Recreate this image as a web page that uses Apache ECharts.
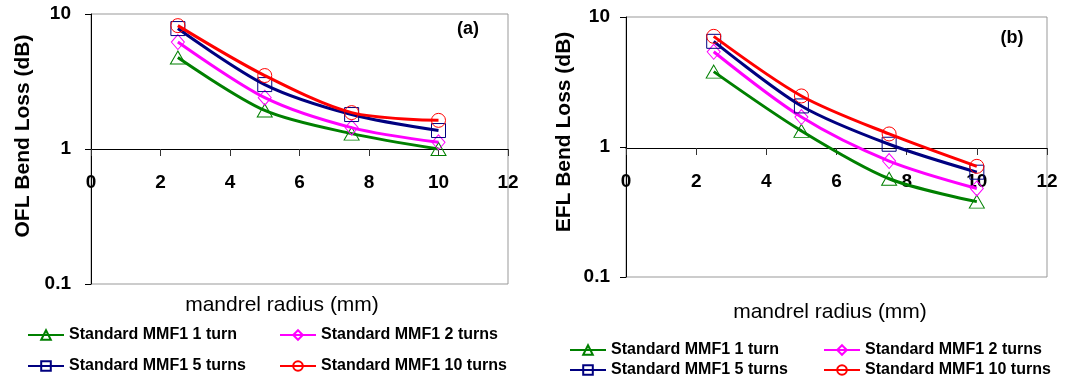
<!DOCTYPE html>
<html>
<head>
<meta charset="utf-8">
<script src="https://cdn.jsdelivr.net/npm/echarts@6/dist/echarts.min.js"></script>
<style>html,body{margin:0;padding:0;background:#fff}#c{width:1075px;height:383px}</style>
</head>
<body>
<div id="c"></div>
<script>
const radius = [2.5, 5, 7.5, 10];
const names = ['Standard MMF1 1 turn', 'Standard MMF1 2 turns', 'Standard MMF1 5 turns', 'Standard MMF1 10 turns'];
const ofl1 = [4.76, 1.93, 1.30, 1.00];
const ofl2 = [6.2, 2.4, 1.44, 1.12];
const ofl5 = [7.8, 3.0, 1.80, 1.37];
const ofl10 = [8.2, 3.5, 1.86, 1.63];
const efl1 = [3.8, 1.33, 0.57, 0.38];
const efl2 = [5.4, 1.70, 0.78, 0.48];
const efl5 = [6.5, 2.07, 1.05, 0.64];
const efl10 = [7.1, 2.47, 1.26, 0.71];
const xTicks = [0, 2, 4, 6, 8, 10, 12];
const yTicks = [0.1, 1, 10];

const FONT = '"Liberation Sans", Arial, sans-serif';
const colors = ['#008000', '#ff00ff', '#000080', '#ff0000'];
const symbols = ['triangle', 'diamond', 'rect', 'circle'];
const symSizes = [[15, 13], [13, 15], [14, 14], [14, 14]];

const P = [
  {grid: {left: 91, top: 14, width: 417, height: 270}, axisH: 135, data: [ofl1, ofl2, ofl5, ofl10], yname: 'OFL Bend Loss (dB)', ynx: 23, yny: 136, xname: 'mandrel radius (mm)', xnx: 282, xny: 305, tag: '(a)', tx: 468, ty: 29, labelMargin: 20,
   leg: {x1: 27, x2: 279, y1: 336, y2: 367}},
  {grid: {left: 626, top: 17, width: 421, height: 260}, axisH: 131, data: [efl1, efl2, efl5, efl10], yname: 'EFL Bend Loss (dB)', ynx: 564, yny: 132, xname: 'mandrel radius (mm)', xnx: 830, xny: 312, tag: '(b)', tx: 1012, ty: 38, labelMargin: 16,
   leg: {x1: 569, x2: 823, y1: 351, y2: 371}}
];

const grids = [], xAxes = [], yAxes = [], series = [], legends = [], graphics = [];
P.forEach((p, pi) => {
  const gMain = grids.length;
  grids.push(Object.assign({show: true, borderColor: '#999', borderWidth: 1, containLabel: false}, p.grid));
  grids.push({left: p.grid.left, top: p.grid.top, width: p.grid.width, height: p.axisH, show: false});
  // main axes
  xAxes.push({gridIndex: gMain, type: 'value', min: 0, max: 12, interval: 2, show: false});
  yAxes.push({gridIndex: gMain, type: 'log', logBase: 10, min: yTicks[0], max: yTicks[yTicks.length - 1],
    axisLine: {show: true, lineStyle: {color: '#000', width: 1}},
    axisTick: {show: true, inside: false, length: 6, lineStyle: {color: '#000'}},
    minorTick: {show: false}, splitLine: {show: false},
    axisLabel: {margin: p.labelMargin, fontFamily: FONT, fontSize: 19, fontWeight: 'bold', color: '#000',
      formatter: v => String(+Number(v).toPrecision(2))}
  });
  // x axis drawn at y = 1
  xAxes.push({gridIndex: gMain + 1, type: 'value', min: xTicks[0], max: xTicks[xTicks.length - 1], interval: 2, position: 'bottom',
    axisLine: {show: true, lineStyle: {color: '#000', width: 1}},
    axisTick: {show: true, inside: false, length: 7, lineStyle: {color: '#333'}},
    splitLine: {show: false},
    axisLabel: {margin: 24, fontFamily: FONT, fontSize: 19, color: '#000', fontWeight: 'bold'}
  });
  yAxes.push({gridIndex: gMain + 1, type: 'value', show: false, min: 0, max: 1});
  const xi = pi * 2, yi = pi * 2;
  p.data.forEach((arr, si) => {
    series.push({
      name: names[si], type: 'line', xAxisIndex: xi, yAxisIndex: yi,
      data: radius.map((r, k) => [r, arr[k]]),
      smooth: 0.3,
      symbol: symbols[si], symbolSize: symSizes[si],
      showAllSymbol: true,
      lineStyle: {color: colors[si], width: 3},
      itemStyle: {color: 'rgba(255,255,255,0)', borderColor: colors[si], borderWidth: 1},
      z: 2 + si
    });
  });
  const L = p.leg;
  const pos = [[L.x1, L.y1], [L.x2, L.y1], [L.x1, L.y2], [L.x2, L.y2]];
  names.forEach((n, i) => {
    legends.push({
      data: [n], left: pos[i][0], top: pos[i][1] - 9, padding: 0,
      itemWidth: 36, itemHeight: 12, itemGap: 0,
      textStyle: {fontFamily: FONT, fontSize: 16, fontWeight: 'bold', color: '#000', padding: [0, 0, 0, 0]},
      selectedMode: false
    });
  });
  graphics.push({type: 'text', x: p.ynx, y: p.yny, rotation: Math.PI / 2,
    style: {text: p.yname, font: 'bold 21px ' + FONT, fill: '#000', textAlign: 'center', textVerticalAlign: 'middle'}});
  graphics.push({type: 'text', x: p.xnx, y: p.xny,
    style: {text: p.xname, font: '21px ' + FONT, fill: '#000', textAlign: 'center', textVerticalAlign: 'middle'}});
  graphics.push({type: 'text', x: p.tx, y: p.ty,
    style: {text: p.tag, font: 'bold 18px ' + FONT, fill: '#000', textAlign: 'center', textVerticalAlign: 'middle'}});
});

const chart = echarts.init(document.getElementById('c'), null, {renderer: 'canvas'});
chart.setOption({
  animation: false,
  backgroundColor: '#fff',
  grid: grids, xAxis: xAxes, yAxis: yAxes, series: series, legend: legends, graphic: graphics
});
</script>
</body>
</html>
